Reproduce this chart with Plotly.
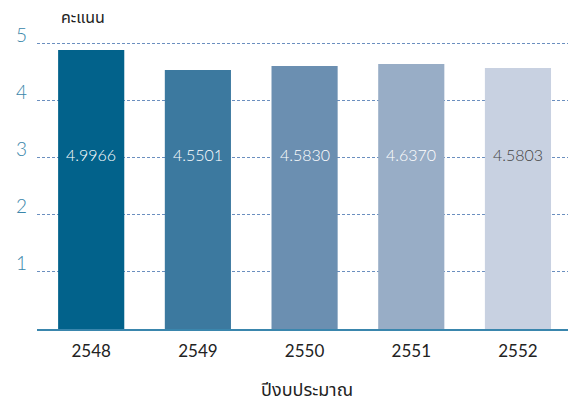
import plotly.graph_objects as go

years = ["2548", "2549", "2550", "2551", "2552"]
bar_heights = [4.88, 4.53, 4.60, 4.635, 4.565]
score_labels = ["4.9966", "4.5501", "4.5830", "4.6370", "4.5803"]
bar_colors = ["#02628b", "#3c799f", "#6b8fb1", "#98adc6", "#c8d1e1"]
label_colors = ["#ffffff", "#ffffff", "#ffffff", "#ffffff", "#444444"]
y_ticks = [1, 2, 3, 4, 5]

FONT = "Lato, 'Noto Sans Thai', 'Noto Sans', 'DejaVu Sans', sans-serif"

fig = go.Figure()
fig.add_trace(go.Bar(
    x=years, y=bar_heights,
    marker=dict(color=bar_colors, line=dict(width=0)),
    width=0.62,
    textposition="none",
    hoverinfo="skip",
))
# value labels placed near y=3 level
for i, (lab, col) in enumerate(zip(score_labels, label_colors)):
    fig.add_annotation(x=i, y=3.06, xref="x", yref="y", text=lab, showarrow=False,
                       font=dict(family=FONT, size=16, color=col, weight=300),
                       xanchor="center", yanchor="middle")

fig.add_annotation(xref="paper", yref="paper", x=0, y=1, xshift=22, yshift=10,
                   text="คะแนน", showarrow=False,
                   font=dict(family=FONT, size=16, color="#222222"),
                   xanchor="left", yanchor="middle")

fig.add_annotation(xref="paper", yref="paper", x=0.5, y=0, yshift=-60,
                   text="ปีงบประมาณ", showarrow=False,
                   font=dict(family=FONT, size=18, color="#222222"),
                   xanchor="center", yanchor="middle")

fig.update_layout(
    width=576, height=403,
    margin=dict(l=21, r=8, t=18, b=82),
    paper_bgcolor="white", plot_bgcolor="white",
    showlegend=False,
    font=dict(family=FONT),
    xaxis=dict(
        type="category",
        range=[-0.508, 4.544],
        showline=True, linecolor="#3a86ad", linewidth=2,
        showgrid=False, ticks="",
        tickfont=dict(family=FONT, size=17, color="#222222"),
        ticklabelstandoff=6,
        fixedrange=True,
    ),
    yaxis=dict(
        range=[0, 5.3],
        tickvals=y_ticks, ticktext=[str(v) for v in y_ticks],
        showgrid=True, gridcolor="#6b8fbf", gridwidth=1, griddash="3px,2px",
        zeroline=False, showline=False, ticks="",
        tickfont=dict(family=FONT, size=19, color="#3a86aa", weight=300),
        ticklabelshift=-8, ticklabelstandoff=9,
        fixedrange=True,
    ),
)

fig.write_html("out.html")
